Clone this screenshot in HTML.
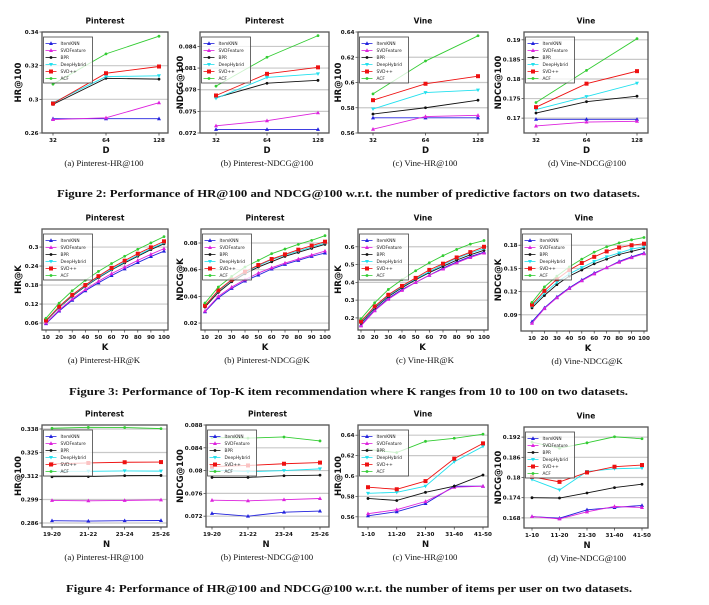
<!DOCTYPE html>
<html><head><meta charset="utf-8">
<style>
html,body{margin:0;padding:0;background:#fff;}
svg{display:block;}
.tick{font-family:"DejaVu Sans","Liberation Sans",sans-serif;font-weight:bold;font-size:5.6px;fill:#111;}
.ttl{font-family:"DejaVu Sans","Liberation Sans",sans-serif;font-weight:bold;font-size:7.5px;fill:#111;}
.axl{font-family:"DejaVu Sans","Liberation Sans",sans-serif;font-weight:bold;font-size:8.5px;fill:#111;}
.leg{font-family:"DejaVu Sans","Liberation Sans",sans-serif;font-size:4.3px;fill:#222;}
.cap{font-family:"Liberation Serif",serif;font-size:8.8px;fill:#111;}
.fig{font-family:"Liberation Serif",serif;font-weight:bold;font-size:10.5px;fill:#111;}
</style></head>
<body>
<svg id="root" width="709" height="605" viewBox="0 0 709 605" xmlns="http://www.w3.org/2000/svg"></svg>
<script>
const seriesNames = ["ItemKNN","SVDFeature","BPR","DeepHybrid","SVD++","ACF"];
const seriesColors = ["#2222dd","#dd22dd","#111111","#22e0ee","#ee1111","#33cc33"];
const catsD = ["32","64","128"];
const catsK = ["10","20","30","40","50","60","70","80","90","100"];
const catsNP = ["19-20","21-22","23-24","25-26"];
const catsNV = ["1-10","11-20","21-30","31-40","41-50"];

const f2a_ticks = [0.28,0.3,0.32,0.34];
const f2a_tickLabels = ["0.26","0.3","0.32","0.34"];
const f2a_ItemKNN = [0.2885,0.2885,0.2885];
const f2a_SVDFeature = [0.288,0.289,0.298];
const f2a_BPR = [0.297,0.3125,0.312];
const f2a_DeepHybrid = [0.298,0.3135,0.314];
const f2a_SVDpp = [0.2975,0.3155,0.3195];
const f2a_ACF = [0.309,0.327,0.3375];

const f2b_ticks = [0.072,0.075,0.078,0.081,0.084];
const f2b_tickLabels = ["0.072","0.075","0.078","0.081","0.084"];
const f2b_ItemKNN = [0.0725,0.0725,0.0725];
const f2b_SVDFeature = [0.073,0.0737,0.0748];
const f2b_BPR = [0.0769,0.0789,0.0793];
const f2b_DeepHybrid = [0.0768,0.0797,0.0802];
const f2b_SVDpp = [0.0772,0.0802,0.0811];
const f2b_ACF = [0.0785,0.0825,0.0855];

const f2c_ticks = [0.56,0.58,0.6,0.62,0.64];
const f2c_tickLabels = ["0.56","0.58","0.6","0.62","0.64"];
const f2c_ItemKNN = [0.572,0.572,0.572];
const f2c_SVDFeature = [0.563,0.573,0.574];
const f2c_BPR = [0.575,0.580,0.586];
const f2c_DeepHybrid = [0.579,0.592,0.594];
const f2c_SVDpp = [0.586,0.599,0.605];
const f2c_ACF = [0.591,0.617,0.637];

const f2d_ticks = [0.17,0.175,0.18,0.185,0.19];
const f2d_tickLabels = ["0.17","0.175","0.18","0.185","0.19"];
const f2d_ItemKNN = [0.1697,0.1697,0.1697];
const f2d_SVDFeature = [0.168,0.169,0.1692];
const f2d_BPR = [0.1713,0.1742,0.1756];
const f2d_DeepHybrid = [0.1722,0.1755,0.1789];
const f2d_SVDpp = [0.1728,0.1788,0.182];
const f2d_ACF = [0.174,0.1822,0.1903];

const f3a_ticks = [0.06,0.12,0.18,0.24,0.3];
const f3a_tickLabels = ["0.06","0.12","0.18","0.24","0.3"];
const f3a_ItemKNN = [0.058,0.098,0.132,0.162,0.187,0.21,0.231,0.251,0.27,0.287];
const f3a_SVDFeature = [0.06,0.101,0.136,0.166,0.192,0.216,0.237,0.258,0.277,0.295];
const f3a_BPR = [0.066,0.109,0.145,0.176,0.203,0.228,0.25,0.271,0.292,0.31];
const f3a_DeepHybrid = [0.067,0.11,0.147,0.178,0.205,0.23,0.253,0.274,0.295,0.313];
const f3a_SVDpp = [0.068,0.112,0.149,0.18,0.208,0.234,0.257,0.279,0.299,0.318];
const f3a_ACF = [0.075,0.123,0.162,0.195,0.223,0.248,0.271,0.293,0.313,0.333];

const f3b_ticks = [0.02,0.04,0.06,0.08];
const f3b_tickLabels = ["0.02","0.04","0.06","0.08"];
const f3b_ItemKNN = [0.0285,0.039,0.046,0.0515,0.056,0.0605,0.064,0.067,0.070,0.0725];
const f3b_SVDFeature = [0.029,0.040,0.047,0.0525,0.0575,0.0615,0.065,0.068,0.071,0.074];
const f3b_BPR = [0.032,0.043,0.051,0.057,0.062,0.066,0.070,0.073,0.076,0.079];
const f3b_DeepHybrid = [0.033,0.044,0.052,0.058,0.063,0.0675,0.071,0.074,0.077,0.080];
const f3b_SVDpp = [0.033,0.0445,0.0525,0.0585,0.0635,0.068,0.0715,0.075,0.078,0.081];
const f3b_ACF = [0.035,0.047,0.055,0.062,0.067,0.072,0.0755,0.079,0.082,0.0855];

const f3c_ticks = [0.2,0.3,0.4,0.5,0.6];
const f3c_tickLabels = ["0.2","0.3","0.4","0.5","0.6"];
const f3c_ItemKNN = [0.16,0.245,0.31,0.36,0.40,0.44,0.48,0.515,0.545,0.57];
const f3c_SVDFeature = [0.155,0.24,0.305,0.355,0.40,0.44,0.475,0.51,0.54,0.565];
const f3c_BPR = [0.17,0.255,0.32,0.37,0.415,0.455,0.49,0.525,0.555,0.58];
const f3c_DeepHybrid = [0.175,0.26,0.325,0.375,0.42,0.46,0.5,0.535,0.565,0.59];
const f3c_SVDpp = [0.18,0.265,0.33,0.38,0.425,0.47,0.505,0.54,0.57,0.6];
const f3c_ACF = [0.195,0.285,0.36,0.415,0.465,0.51,0.55,0.585,0.615,0.635];

const f3d_ticks = [0.09,0.12,0.15,0.18];
const f3d_tickLabels = ["0.09","0.12","0.15","0.18"];
const f3d_ItemKNN = [0.081,0.099,0.113,0.125,0.135,0.144,0.151,0.159,0.165,0.17];
const f3d_SVDFeature = [0.079,0.098,0.112,0.124,0.134,0.143,0.151,0.158,0.164,0.169];
const f3d_BPR = [0.099,0.115,0.129,0.14,0.148,0.156,0.162,0.168,0.172,0.176];
const f3d_DeepHybrid = [0.101,0.118,0.132,0.143,0.151,0.159,0.165,0.17,0.175,0.178];
const f3d_SVDpp = [0.103,0.121,0.136,0.148,0.157,0.165,0.172,0.177,0.18,0.182];
const f3d_ACF = [0.106,0.126,0.14,0.152,0.162,0.171,0.178,0.183,0.187,0.190];

const f4a_ticks = [0.286,0.299,0.312,0.325,0.338];
const f4a_tickLabels = ["0.286","0.299","0.312","0.325","0.338"];
const f4a_ItemKNN = [0.2873,0.2871,0.2873,0.2874];
const f4a_SVDFeature = [0.2985,0.2983,0.2985,0.2988];
const f4a_BPR = [0.3116,0.3117,0.3122,0.3123];
const f4a_DeepHybrid = [0.3146,0.3146,0.3148,0.3147];
const f4a_SVDpp = [0.3187,0.3192,0.3196,0.3197];
const f4a_ACF = [0.3384,0.3389,0.3388,0.3382];

const f4b_ticks = [0.072,0.076,0.08,0.084,0.088];
const f4b_tickLabels = ["0.072","0.076","0.08","0.084","0.088"];
const f4b_ItemKNN = [0.0725,0.0720,0.0727,0.0729];
const f4b_SVDFeature = [0.0748,0.0747,0.0749,0.0751];
const f4b_BPR = [0.0788,0.0788,0.0791,0.0792];
const f4b_DeepHybrid = [0.0801,0.0798,0.0800,0.0803];
const f4b_SVDpp = [0.0807,0.0809,0.0812,0.0814];
const f4b_ACF = [0.0858,0.0857,0.0859,0.0852];

const f4c_ticks = [0.56,0.58,0.6,0.62,0.64];
const f4c_tickLabels = ["0.56","0.58","0.6","0.62","0.64"];
const f4c_ItemKNN = [0.561,0.565,0.573,0.59,0.59];
const f4c_SVDFeature = [0.563,0.567,0.575,0.589,0.59];
const f4c_BPR = [0.578,0.576,0.584,0.59,0.601];
const f4c_DeepHybrid = [0.583,0.584,0.59,0.614,0.629];
const f4c_SVDpp = [0.589,0.587,0.595,0.617,0.632];
const f4c_ACF = [0.626,0.623,0.634,0.637,0.641];

const f4d_ticks = [0.168,0.174,0.18,0.186,0.192];
const f4d_tickLabels = ["0.168","0.174","0.18","0.186","0.192"];
const f4d_ItemKNN = [0.1684,0.1679,0.1704,0.1711,0.1717];
const f4d_SVDFeature = [0.1684,0.1677,0.1698,0.1714,0.1711];
const f4d_BPR = [0.1740,0.1739,0.1754,0.1770,0.1780];
const f4d_DeepHybrid = [0.1794,0.1763,0.1818,0.1826,0.1828];
const f4d_SVDpp = [0.1802,0.1787,0.1815,0.1832,0.1837];
const f4d_ACF = [0.1905,0.1887,0.1903,0.1921,0.1915];

const NS = "http://www.w3.org/2000/svg";
const root = document.getElementById("root");
function mk(tag, attrs, parent){
  const e = document.createElementNS(NS, tag);
  for (const k in attrs) e.setAttribute(k, attrs[k]);
  (parent||root).appendChild(e);
  return e;
}
function marker(g, i, x, y){
  const c = seriesColors[i];
  let m;
  if (i === 4) { m = mk("rect",{x:x-2,y:y-2,width:4,height:4,fill:c},g); }
  else if (i === 0 || i === 1) { m = mk("polygon",{points:`${x},${y-2.2} ${x-2},${y+1.5} ${x+2},${y+1.5}`,fill:c},g); }
  else if (i === 3) { m = mk("polygon",{points:`${x-2},${y-1.5} ${x+2},${y-1.5} ${x},${y+2}`,fill:c},g); }
  else { m = mk("circle",{cx:x,cy:y,r:1.4,fill:c},g); }
  
  
}
function chart(cfg){
  const g = mk("g",{});
  
  
  const [L,T,R,B] = cfg.box;
  const [y0,y1] = cfg.ylim;
  const ys = v => B - (v - y0) / (y1 - y0) * (B - T);
  const n = cfg.cats.length;
  const xs = i => cfg.x0 + (cfg.x1 - cfg.x0) * i / (n - 1);
  cfg.ticks.forEach((t, k) => {
    const y = ys(t);
    const gl = mk("line",{x1:L,x2:R,y1:y,y2:y,stroke:"#c8c8c8","stroke-width":1.2},g);
    
    
    mk("line",{x1:L-2.5,x2:L,y1:y,y2:y,stroke:"#333","stroke-width":0.7},g);
    const tl = mk("text",{x:L-3.5,y:y+2,"text-anchor":"end",class:"tick"},g);
    tl.textContent = cfg.tickLabels[k];
    
    
  });
  const fr = mk("rect",{x:L,y:T,width:R-L,height:B-T,fill:"none",stroke:"#555","stroke-width":1.3},g);
  
  
  cfg.cats.forEach((c, i) => {
    const x = xs(i);
    mk("line",{x1:x,x2:x,y1:B,y2:B+2.5,stroke:"#333","stroke-width":0.7},g);
    const xl = mk("text",{x:x,y:B+9,"text-anchor":"middle",class:"tick"},g);
    xl.textContent = c;
    
    
  });
  cfg.series.forEach((arr, si) => {
    const pts = arr.map((v, i) => `${xs(i)},${ys(v)}`).join(" ");
    const pl = mk("polyline",{points:pts,fill:"none",stroke:seriesColors[si],"stroke-width":0.9},g);
    
    
    arr.forEach((v, i) => marker(g, si, xs(i), ys(v)));
  });
  const lx = L + 1.5, ly = T + 5;
  const lg = mk("g",{},g);
  
  
  mk("rect",{x:lx,y:ly,width:49,height:46,fill:"#fff","fill-opacity":0.75,stroke:"#444","stroke-width":0.8},lg);
  seriesNames.forEach((s, si) => {
    const yy = ly + 6.5 + si * 7;
    mk("line",{x1:lx+2,x2:lx+13,y1:yy,y2:yy,stroke:seriesColors[si],"stroke-width":0.8},lg);
    marker(lg, si, lx+7.5, yy);
    const lt = mk("text",{x:lx+17,y:yy+1.5,class:"leg"},lg);
    lt.textContent = s;
    
    
  });
  const tt = mk("text",{x:(L+R)/2,y:T-8.5,"text-anchor":"middle",class:"ttl"},g);
  tt.textContent = cfg.title;
  
  
  const xt = mk("text",{x:(cfg.x0+cfg.x1)/2,y:B+20,"text-anchor":"middle",class:"axl"},g);
  xt.textContent = cfg.xlabel;
  
  
  const yx = cfg.ylx, yy = (T+B)/2;
  const yt = mk("text",{x:yx,y:yy,"text-anchor":"middle",class:"axl",transform:`rotate(-90 ${yx} ${yy})`},g);
  yt.textContent = cfg.ylabel;
  
  
  const cp = mk("text",{x:cfg.capx,y:B+33,"text-anchor":"middle",class:"cap"},g);
  cp.textContent = cfg.caption;
  
  
}

chart({name:"chart-2a",box:[42,32,168,133],ylim:[0.28,0.34],ticks:f2a_ticks,tickLabels:f2a_tickLabels,cats:catsD,x0:53,x1:159,
 series:[f2a_ItemKNN,f2a_SVDFeature,f2a_BPR,f2a_DeepHybrid,f2a_SVDpp,f2a_ACF],title:"Pinterest",xlabel:"D",ylabel:"HR@100",ylx:21,capx:104,caption:"(a)  Pinterest-HR@100"});
chart({name:"chart-2b",box:[200,32,329,133],ylim:[0.072,0.086],ticks:f2b_ticks,tickLabels:f2b_tickLabels,cats:catsD,x0:216,x1:318,
 series:[f2b_ItemKNN,f2b_SVDFeature,f2b_BPR,f2b_DeepHybrid,f2b_SVDpp,f2b_ACF],title:"Pinterest",xlabel:"D",ylabel:"NDCG@100",ylx:183,capx:267,caption:"(b)  Pinterest-NDCG@100"});
chart({name:"chart-2c",box:[358,32,488,133],ylim:[0.56,0.64],ticks:f2c_ticks,tickLabels:f2c_tickLabels,cats:catsD,x0:373,x1:478,
 series:[f2c_ItemKNN,f2c_SVDFeature,f2c_BPR,f2c_DeepHybrid,f2c_SVDpp,f2c_ACF],title:"Vine",xlabel:"D",ylabel:"HR@100",ylx:341,capx:425,caption:"(c)  Vine-HR@100"});
chart({name:"chart-2d",box:[524,32,648,133],ylim:[0.1662,0.192],ticks:f2d_ticks,tickLabels:f2d_tickLabels,cats:catsD,x0:536,x1:637,
 series:[f2d_ItemKNN,f2d_SVDFeature,f2d_BPR,f2d_DeepHybrid,f2d_SVDpp,f2d_ACF],title:"Vine",xlabel:"D",ylabel:"NDCG@100",ylx:501,capx:587,caption:"(d)  Vine-NDCG@100"});

chart({name:"chart-3a",box:[42,229,168,330],ylim:[0.038,0.357],ticks:f3a_ticks,tickLabels:f3a_tickLabels,cats:catsK,x0:46,x1:164,
 series:[f3a_ItemKNN,f3a_SVDFeature,f3a_BPR,f3a_DeepHybrid,f3a_SVDpp,f3a_ACF],title:"Pinterest",xlabel:"K",ylabel:"HR@K",ylx:21,capx:104,caption:"(a)  Pinterest-HR@K"});
chart({name:"chart-3b",box:[201,229,329,330],ylim:[0.0148,0.0905],ticks:f3b_ticks,tickLabels:f3b_tickLabels,cats:catsK,x0:205,x1:325,
 series:[f3b_ItemKNN,f3b_SVDFeature,f3b_BPR,f3b_DeepHybrid,f3b_SVDpp,f3b_ACF],title:"Pinterest",xlabel:"K",ylabel:"NDCG@K",ylx:183,capx:267,caption:"(b)  Pinterest-NDCG@K"});
chart({name:"chart-3c",box:[358,229,488,330],ylim:[0.132,0.70],ticks:f3c_ticks,tickLabels:f3c_tickLabels,cats:catsK,x0:361,x1:484,
 series:[f3c_ItemKNN,f3c_SVDFeature,f3c_BPR,f3c_DeepHybrid,f3c_SVDpp,f3c_ACF],title:"Vine",xlabel:"K",ylabel:"HR@K",ylx:341,capx:425,caption:"(c)  Vine-HR@K"});
chart({name:"chart-3d",box:[521,229,647,331],ylim:[0.069,0.201],ticks:f3d_ticks,tickLabels:f3d_tickLabels,cats:catsK,x0:532,x1:644,
 series:[f3d_ItemKNN,f3d_SVDFeature,f3d_BPR,f3d_DeepHybrid,f3d_SVDpp,f3d_ACF],title:"Vine",xlabel:"K",ylabel:"NDCG@K",ylx:501,capx:587,caption:"(d)  Vine-NDCG@K"});

chart({name:"chart-4a",box:[42,425,167,527],ylim:[0.2838,0.3402],ticks:f4a_ticks,tickLabels:f4a_tickLabels,cats:catsNP,x0:52,x1:161,
 series:[f4a_ItemKNN,f4a_SVDFeature,f4a_BPR,f4a_DeepHybrid,f4a_SVDpp,f4a_ACF],title:"Pinterest",xlabel:"N",ylabel:"HR@100",ylx:21,capx:104,caption:"(a)  Pinterest-HR@100"});
chart({name:"chart-4b",box:[206,425,329,527],ylim:[0.0701,0.088],ticks:f4b_ticks,tickLabels:f4b_tickLabels,cats:catsNP,x0:212,x1:320,
 series:[f4b_ItemKNN,f4b_SVDFeature,f4b_BPR,f4b_DeepHybrid,f4b_SVDpp,f4b_ACF],title:"Pinterest",xlabel:"N",ylabel:"NDCG@100",ylx:183,capx:267,caption:"(b)  Pinterest-NDCG@100"});
chart({name:"chart-4c",box:[358,425,488,527],ylim:[0.550,0.650],ticks:f4c_ticks,tickLabels:f4c_tickLabels,cats:catsNV,x0:368,x1:483,
 series:[f4c_ItemKNN,f4c_SVDFeature,f4c_BPR,f4c_DeepHybrid,f4c_SVDpp,f4c_ACF],title:"Vine",xlabel:"N",ylabel:"HR@100",ylx:341,capx:425,caption:"(c)  Vine-HR@100"});
chart({name:"chart-4d",box:[524,427,648,528],ylim:[0.165,0.195],ticks:f4d_ticks,tickLabels:f4d_tickLabels,cats:catsNV,x0:532,x1:642,
 series:[f4d_ItemKNN,f4d_SVDFeature,f4d_BPR,f4d_DeepHybrid,f4d_SVDpp,f4d_ACF],title:"Vine",xlabel:"N",ylabel:"NDCG@100",ylx:501,capx:587,caption:"(d)  Vine-NDCG@100"});

const figCaps = [
 {t:"Figure 2: Performance of HR@100 and NDCG@100 w.r.t. the number of predictive factors on two datasets.",x0:57,x1:640,y:197},
 {t:"Figure 3: Performance of Top-K item recommendation where K ranges from 10 to 100 on two datasets.",x0:69,x1:628,y:395},
 {t:"Figure 4: Performance of HR@100 and NDCG@100 w.r.t. the number of items per user on two datasets.",x0:66,x1:632,y:592}
];
figCaps.forEach(f => {
  const e = mk("text",{x:f.x0,y:f.y,class:"fig",textLength:f.x1-f.x0,lengthAdjust:"spacingAndGlyphs"});
  e.textContent = f.t;
  
  
});
</script>
</body></html>
